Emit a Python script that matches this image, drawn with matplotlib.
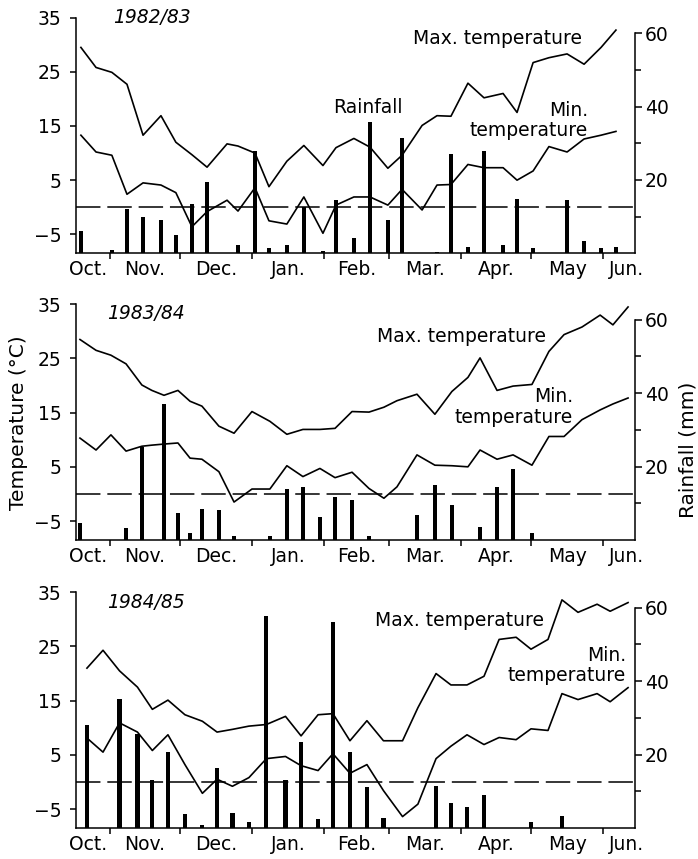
import numpy as np
import matplotlib.pyplot as plt

plt.rcParams['font.family'] = ['DejaVu Sans']

days_8283 = [18.5, 25.0, 31.8, 38.3, 45.2, 52.9, 59.3, 66.2, 72.7, 81.3,
             86.0, 93.3, 99.3, 107.0, 114.3, 122.5, 128.1, 135.8, 142.7, 150.4,
             156.5, 165.1, 171.5, 177.5, 184.8, 191.7, 199.9, 205.9, 212.8, 219.6,
             227.4, 234.7, 242.0, 248.4]
max_8283 = [29.5, 25.8, 24.9, 22.7, 13.3, 16.9, 12.0, 9.7, 7.4, 11.7,
            11.3, 10.0, 3.8, 8.5, 11.4, 7.7, 11.0, 12.7, 11.1, 7.2,
            9.6, 15.1, 16.9, 16.8, 22.9, 20.2, 21.0, 17.5, 26.7, 27.6,
            28.3, 26.4, 29.5, 32.7]
min_8283 = [13.3, 10.2, 9.6, 2.4, 4.5, 4.1, 2.7, -3.6, -0.8, 1.3,
            -0.7, 3.6, -2.5, -3.1, 1.9, -4.8, 0.4, 1.9, 1.9, 0.4,
            3.3, -0.5, 4.1, 4.2, 7.9, 7.3, 7.3, 5.0, 6.7, 11.2,
            10.2, 12.6, 13.3, 14.0]
rain_8283 = [6.0, 0, 1.0, 12.2, 9.9, 9.0, 5.0, 13.4, 19.4, 0,
             2.3, 28.0, 1.4, 2.4, 12.5, 0.5, 14.5, 4.1, 35.8, 9.0,
             31.5, 0, 0.4, 27.1, 1.6, 27.8, 2.4, 14.7, 1.4, 0,
             14.4, 3.4, 1.4, 1.6]

days_8384 = [18.1, 25.0, 31.4, 37.9, 44.7, 49.0, 54.2, 60.2, 65.4, 70.5,
             77.8, 84.3, 92.0, 99.7, 107.0, 113.9, 121.2, 127.7, 135.0, 142.3,
             148.7, 154.3, 162.9, 170.6, 177.9, 184.8, 190.0, 197.3, 204.2, 212.3,
             219.6, 226.1, 233.8, 241.6, 247.1, 253.6]
max_8384 = [28.5, 26.5, 25.6, 24.0, 20.1, 19.1, 18.2, 19.1, 17.1, 16.2,
            12.5, 11.2, 15.2, 13.4, 11.0, 11.9, 11.9, 12.1, 15.2, 15.1,
            16.0, 17.2, 18.4, 14.7, 18.9, 21.5, 25.1, 19.1, 19.9, 20.2,
            26.3, 29.4, 30.8, 33.0, 31.2, 34.5]
min_8384 = [10.3, 8.1, 10.9, 7.9, 8.8, 9.0, 9.2, 9.4, 6.6, 6.4,
            4.1, -1.5, 0.9, 0.9, 5.2, 3.2, 4.7, 3.0, 4.0, 1.0,
            -0.8, 1.3, 7.2, 5.3, 5.2, 5.0, 8.1, 6.4, 7.2, 5.3,
            10.6, 10.6, 13.7, 15.5, 16.6, 17.7]
rain_8384 = [4.6, 0, 0, 3.2, 25.3, 0, 37.0, 7.3, 1.9, 8.5,
             8.1, 1.0, 0, 1.0, 13.8, 14.3, 6.2, 11.7, 10.8, 1.2,
             0, 0, 6.8, 15.0, 9.5, 0, 3.4, 14.5, 19.4, 1.8,
             0, 0, 0, 0, 0, 0]

days_8485 = [21.1, 28.0, 35.1, 42.8, 49.2, 55.9, 63.2, 70.7, 77.0, 83.6,
             90.7, 98.2, 106.4, 113.1, 120.4, 126.8, 134.1, 141.4, 148.5, 156.7,
             163.3, 171.1, 177.5, 184.4, 191.7, 198.2, 205.5, 211.9, 219.2, 225.2,
             232.1, 240.3, 245.9, 253.6]
max_8485 = [21.0, 24.3, 20.5, 17.5, 13.4, 15.1, 12.4, 11.2, 9.2, 9.7,
            10.3, 10.6, 12.1, 8.5, 12.4, 12.6, 7.6, 11.3, 7.6, 7.6,
            13.7, 20.0, 17.9, 17.9, 19.5, 26.3, 26.7, 24.5, 26.3, 33.6,
            31.3, 32.8, 31.5, 33.1]
min_8485 = [8.1, 5.5, 10.9, 9.2, 5.8, 8.7, 3.2, -2.1, 0.5, -0.8,
            0.8, 4.3, 4.7, 3.0, 2.1, 5.2, 1.6, 3.2, -1.6, -6.4,
            -4.1, 4.3, 6.6, 8.7, 6.9, 8.2, 7.8, 9.8, 9.5, 16.3,
            15.2, 16.3, 14.8, 17.4]
rain_8485 = [28.1, 0, 35.2, 25.6, 13.2, 20.6, 3.7, 0.9, 16.3, 4.0,
             1.5, 57.7, 13.2, 23.4, 2.4, 56.0, 20.6, 11.1, 2.8, 0,
             0, 11.4, 6.8, 5.6, 9.1, 0, 0, 1.5, 0, 3.2,
             0, 0, 0, 0]

month_names = ["Oct.", "Nov.", "Dec.", "Jan.", "Feb.", "Mar.", "Apr.", "May", "Jun."]
month_starts = [0, 31, 61, 92, 123, 151, 182, 212, 243, 273]
temp_ticks = [-5, 5, 15, 25, 35]

seasons = [
    ("1982/83", days_8283, max_8283, min_8283, rain_8283),
    ("1983/84", days_8384, max_8384, min_8384, rain_8384),
    ("1984/85", days_8485, max_8485, min_8485, rain_8485),
]

# label placement per panel (day, temperature)
layout = [
    dict(bottom=0.7051, season=(32.3, 35.0), maxlab=(197.7, 31.1), minlab=(236.4, 16.0), rainlab=(141.8, 18.4)),
    dict(bottom=0.3714, season=(29.7, 33.3), maxlab=(182.0, 29.0), minlab=(230.0, 16.0), rainlab=None),
    dict(bottom=0.0361, season=(29.7, 33.1), maxlab=(181.0, 29.8), minlab=(252.8, 21.5), rainlab=None),
]

FS = 13.5
label_days = np.clip([(a + b) / 2 for a, b in zip(month_starts[:-1], month_starts[1:])], 21.5, 253)

fig = plt.figure(figsize=(6.98, 8.59), dpi=100)

for (season, days, tmax, tmin, rain), lay in zip(seasons, layout):
    ax = fig.add_axes([0.1089, lay["bottom"], 0.8009, 0.2807])
    ax.set_xlim(16.4, 256.6)
    ax.set_ylim(-8.5, 36)
    ax2 = ax.twinx()
    ax2.set_ylim(0, 65.7)

    ax2.bar(days, rain, width=1.8, color="black", linewidth=0)
    ax.plot(days, tmax, color="black", lw=1.2)
    ax.plot(days, tmin, color="black", lw=1.2)
    ax.axhline(0, color="black", lw=1.1, dashes=(16, 4.5))

    for s in ["top", "right"]:
        ax.spines[s].set_visible(False)
    ax.spines["left"].set_bounds(-8.5, 35)
    for s in ["top", "left", "bottom"]:
        ax2.spines[s].set_visible(False)
    ax2.spines["right"].set_bounds(0, 60)
    for sp in list(ax.spines.values()) + list(ax2.spines.values()):
        sp.set_linewidth(1.1)

    ax.set_yticks(temp_ticks)
    ax.tick_params(axis="y", direction="out", length=4.5, width=1.1, pad=6, labelsize=FS)
    ax.set_xticks(month_starts[1:-1], labels=[""] * 8)
    ax.set_xticks(label_days, labels=month_names, minor=True)
    ax.tick_params(axis="x", which="major", direction="out", length=4, width=1.1)
    ax.tick_params(axis="x", which="minor", length=0, pad=5, labelsize=FS)

    ax2.set_yticks([20, 40, 60])
    ax2.set_yticks([10, 30, 50], minor=True)
    ax2.tick_params(axis="y", which="major", direction="out", length=5, width=1.1, pad=2, labelsize=FS)
    ax2.tick_params(axis="y", which="minor", direction="out", length=4, width=1.1)

    ax.text(*lay["season"], season, fontstyle="italic", fontsize=FS, ha="left", va="center")
    ax.text(*lay["maxlab"], "Max. temperature", fontsize=FS, ha="center", va="center")
    ax.text(*lay["minlab"], "Min.\ntemperature", fontsize=FS, ha="right", va="center",
            multialignment="right", linespacing=1.1)
    if lay["rainlab"]:
        ax.text(*lay["rainlab"], "Rainfall", fontsize=FS, ha="center", va="center")

fig.text(0.026, 0.5076, "Temperature (°C)", rotation=90, ha="center", va="center", fontsize=14.5)
fig.text(0.9857, 0.476, "Rainfall (mm)", rotation=90, ha="center", va="center", fontsize=14.5)

fig.savefig("out.png", dpi=100)
